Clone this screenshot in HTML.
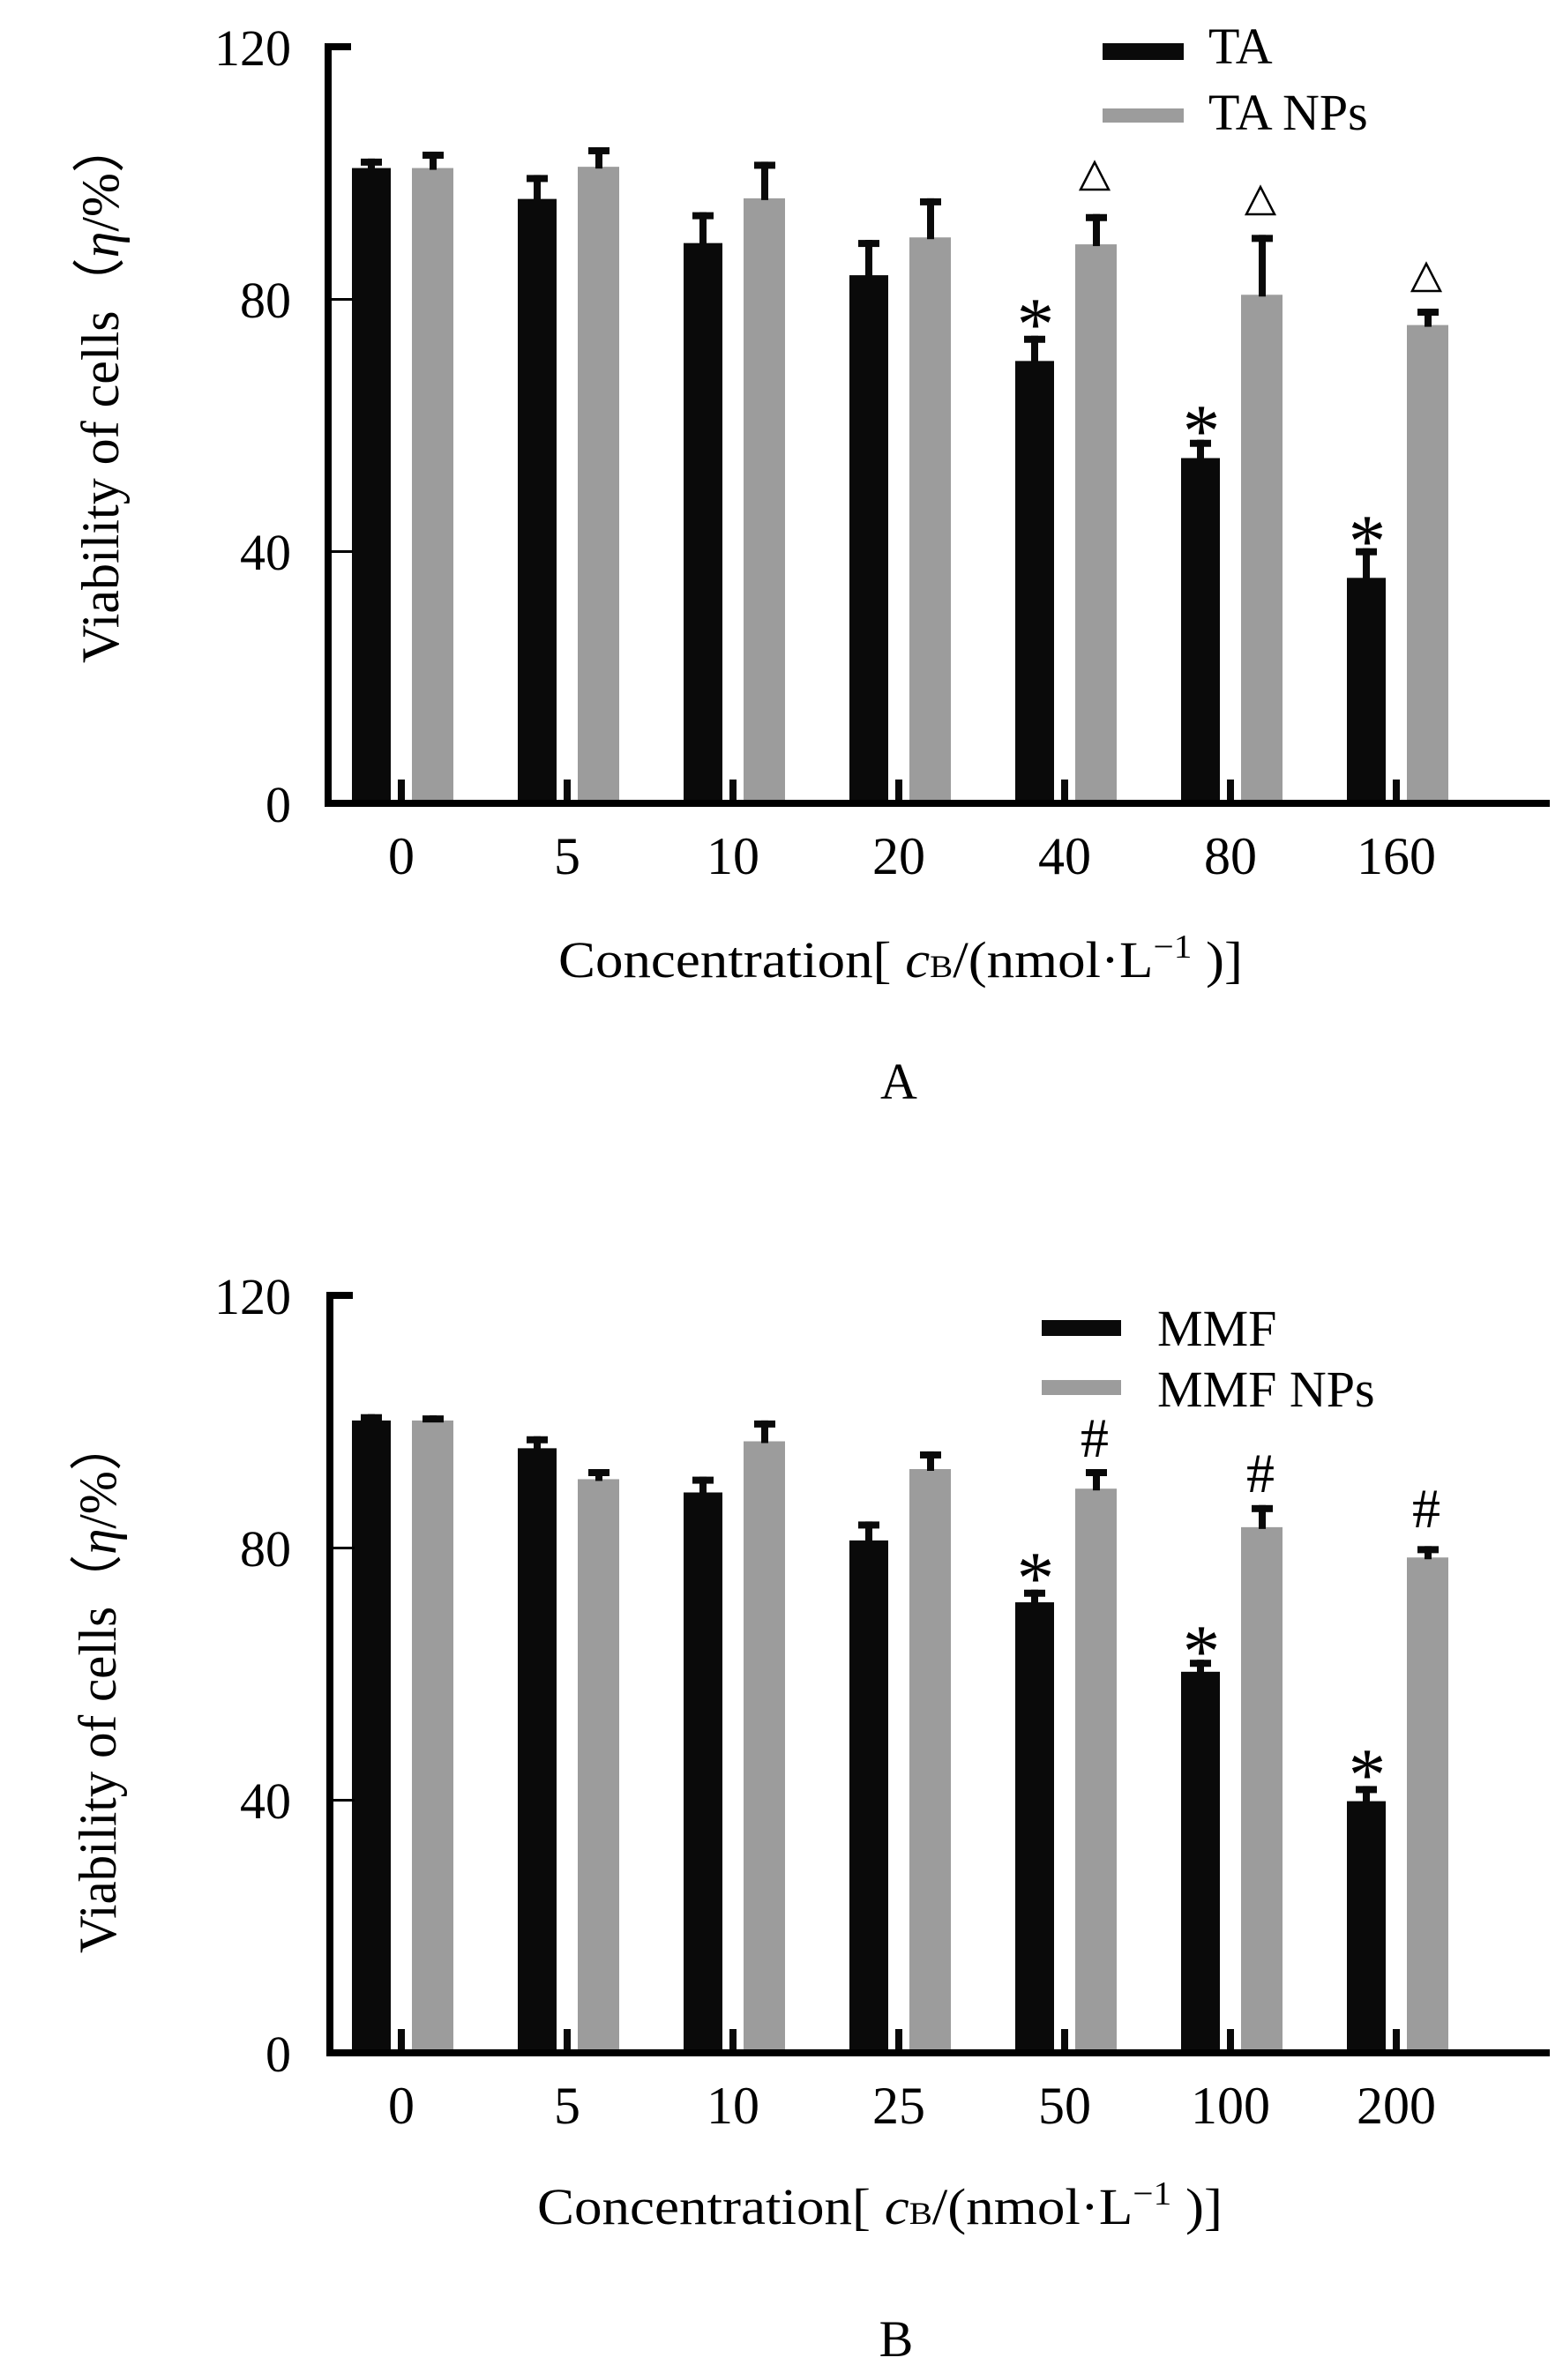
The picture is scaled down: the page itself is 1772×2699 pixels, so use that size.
<!DOCTYPE html>
<html><head><meta charset="utf-8"><style>
html,body{margin:0;padding:0;background:#fff;}
svg{display:block;}
text{font-family:"Liberation Serif",serif;fill:#000;}
</style></head><body>
<svg id="s" width="1772" height="2699" viewBox="0 0 1772 2699" xmlns="http://www.w3.org/2000/svg">
<rect width="1772" height="2699" fill="#fff"/>
<g id="bars"></g>
<!-- Panel A axes -->
<rect x="368" y="49" width="8" height="866" fill="#000"/>
<rect x="368" y="49" width="30" height="8" fill="#000"/>
<rect x="368" y="338" width="32" height="3" fill="#000"/>
<rect x="368" y="624" width="32" height="3" fill="#000"/>
<rect x="368" y="907" width="1389" height="8" fill="#000"/>
<g font-size="58" text-anchor="end">
<text x="330" y="74">120</text><text x="330" y="360">80</text><text x="330" y="646">40</text><text x="330" y="932">0</text>
</g>
<text transform="translate(134,444) rotate(-90)" font-size="60" text-anchor="middle" textLength="616" lengthAdjust="spacingAndGlyphs">Viability of cells（<tspan font-style="italic">η</tspan>/%）</text>
<g font-size="60" text-anchor="middle">
<text x="455" y="991">0</text><text x="643" y="991">5</text><text x="831" y="991">10</text><text x="1019" y="991">20</text><text x="1207" y="991">40</text><text x="1395" y="991">80</text><text x="1583" y="991">160</text>
</g>
<text x="633" y="1108" font-size="58" textLength="776" lengthAdjust="spacingAndGlyphs">Concentration[ <tspan font-style="italic">c</tspan><tspan font-size="36">B</tspan>/(nmol·L<tspan font-size="38" dy="-22">−1</tspan><tspan dy="22"> )]</tspan></text>
<text x="1019" y="1246" font-size="58" text-anchor="middle">A</text>
<rect x="1250" y="49" width="92" height="19" fill="#0a0a0a"/>
<rect x="1250" y="123" width="92" height="16" fill="#9c9c9c"/>
<text x="1370" y="72" font-size="58">TA</text>
<text x="1370" y="147" font-size="58">TA NPs</text>
<!-- Panel B axes -->
<rect x="370" y="1465" width="8" height="867" fill="#000"/>
<rect x="370" y="1465" width="30" height="8" fill="#000"/>
<rect x="370" y="1754" width="32" height="3" fill="#000"/>
<rect x="370" y="2040" width="32" height="3" fill="#000"/>
<rect x="370" y="2324" width="1387" height="8" fill="#000"/>
<g font-size="58" text-anchor="end">
<text x="330" y="1490">120</text><text x="330" y="1776">80</text><text x="330" y="2062">40</text><text x="330" y="2349">0</text>
</g>
<text transform="translate(131,1912) rotate(-90)" font-size="60" text-anchor="middle" textLength="606" lengthAdjust="spacingAndGlyphs">Viability of cells（<tspan font-style="italic">η</tspan>/%）</text>
<g font-size="60" text-anchor="middle">
<text x="455" y="2408">0</text><text x="643" y="2408">5</text><text x="831" y="2408">10</text><text x="1019" y="2408">25</text><text x="1207" y="2408">50</text><text x="1395" y="2408">100</text><text x="1583" y="2408">200</text>
</g>
<text x="609" y="2522" font-size="58" textLength="777" lengthAdjust="spacingAndGlyphs">Concentration[ <tspan font-style="italic">c</tspan><tspan font-size="36">B</tspan>/(nmol·L<tspan font-size="38" dy="-22">−1</tspan><tspan dy="22"> )]</tspan></text>
<text x="1016" y="2672" font-size="58" text-anchor="middle">B</text>
<rect x="1181" y="1497" width="90" height="18" fill="#0a0a0a"/>
<rect x="1181" y="1565" width="90" height="17" fill="#9c9c9c"/>
<text x="1312" y="1526" font-size="58">MMF</text>
<text x="1312" y="1595" font-size="58">MMF NPs</text>
<!-- markers A -->
<g font-size="85" text-anchor="middle">
<text x="1174" y="396">*</text><text x="1362" y="517">*</text><text x="1550" y="642">*</text>
</g>
<g fill="none" stroke="#000" stroke-width="2.5">
<polygon points="1241,184 1225,215 1257,215"/>
<polygon points="1429,212 1413,243 1445,243"/>
<polygon points="1617,299 1601,330 1633,330"/>
</g>
<!-- markers B -->
<g font-size="85" text-anchor="middle">
<text x="1174" y="1818">*</text><text x="1362" y="1901">*</text><text x="1550" y="2041">*</text>
</g>
<g font-size="64" text-anchor="middle">
<text x="1241" y="1652">#</text><text x="1429" y="1692">#</text><text x="1617" y="1732">#</text>
</g>
</svg>
<script>
(function(){
var g=document.getElementById('bars');var ns='http://www.w3.org/2000/svg';
function r(x,y,w,h,c){var e=document.createElementNS(ns,'rect');e.setAttribute('x',x);e.setAttribute('y',y);e.setAttribute('width',w);e.setAttribute('height',h);e.setAttribute('fill',c);g.appendChild(e);}
function panel(y0,k,A,Ae,B,Be){
 for(var i=0;i<7;i++){
  var bx=399+188*i, gx=467+188*i, tx=451+188*i;
  var ya=y0-k*A[i], yae=y0-k*Ae[i];
  r(bx,ya,44,y0-ya,'#0a0a0a');
  r(bx+18,yae,8,ya-yae+2,'#0a0a0a');
  r(bx+10,yae,24,8,'#0a0a0a');
  r(tx,y0-23,8,23,'#0a0a0a');
  var yb=y0-k*B[i], ybe=y0-k*Be[i];
  r(gx,yb,47,y0-yb,'#9c9c9c');
  r(gx+20,ybe,8,yb-ybe+2,'#0a0a0a');
  r(gx+12,ybe,24,8,'#0a0a0a');
 }
}
panel(907,7.15,[100.2,95.3,88.3,83.2,69.6,54.2,35.2],[101.7,99.1,93.2,88.8,73.6,57.1,39.9],
 [100.2,100.4,95.4,89.2,88.1,80.1,75.3],[102.8,103.5,101.2,95.4,92.9,89.6,77.9]);
panel(2324,7.16,[99.6,95.2,88.2,80.6,70.8,59.8,39.3],[100.6,97.1,90.7,83.6,72.8,61.7,41.7],
 [99.6,90.3,96.3,91.9,88.8,82.7,77.9],[100.4,91.9,99.6,94.7,91.9,86.2,79.7]);
})();
</script>
</body></html>
